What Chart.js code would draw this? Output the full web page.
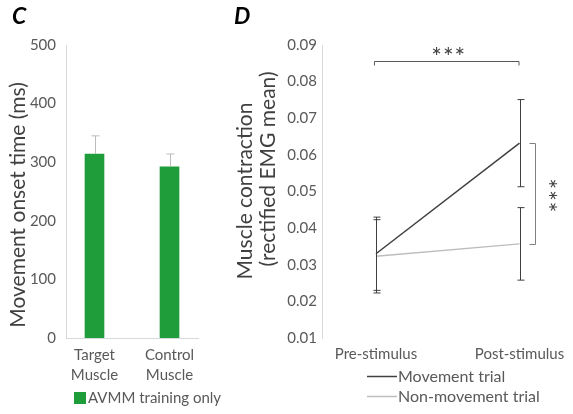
<!DOCTYPE html>
<html>
<head>
<meta charset="utf-8">
<script src="https://cdn.jsdelivr.net/npm/chart.js@4/dist/chart.umd.min.js"></script>
<style>
  body { margin: 0; background: #fff; }
  #wrap { position: relative; width: 573px; height: 414px; }
  canvas { position: absolute; top: 0; }
  #onsetChart { left: 0; }
  #emgChart { left: 220px; }
</style>
</head>
<body>
<div id="wrap">
  <canvas id="onsetChart" width="250" height="414"></canvas>
  <canvas id="emgChart" width="353" height="414"></canvas>
</div>
<script>
// Panel C data
const muscleLabels = [["Target", "Muscle"], ["Control", "Muscle"]];
const onsetMeans = [314, 292];
const onsetErrors = [31, 22];
const onsetSeriesName = "AVMM training only";
const onsetTitle = "Movement onset time (ms)";

// Panel D data
const phaseLabels = ["Pre-stimulus", "Post-stimulus"];
const movementMeans = [0.0330, 0.0632];
const movementErrors = [0.0100, 0.0119];
const nonMovementMeans = [0.0323, 0.0357];
const nonMovementErrors = [0.0100, 0.0099];
const seriesNames = ["Movement trial", "Non-movement trial"];
const emgTitle = ["Muscle contraction", "(rectified EMG mean)"];
const sigLabel = "***";

const tickColor = "#595959";
const titleColor = "#404040";
const axisColor = "#d9d9d9";
const green = "#1f9d3b";

function rotatedText(ctx, text, x, y, size) {
  ctx.save();
  ctx.translate(x, y);
  ctx.rotate(-Math.PI / 2);
  ctx.font = size + "px Lato";
  ctx.fillStyle = titleColor;
  ctx.textAlign = "center";
  ctx.textBaseline = "middle";
  ctx.fillText(text, 0, 0);
  ctx.restore();
}

function panelLetter(ctx, letter, x, y) {
  ctx.save();
  ctx.font = "italic bold 23px Lato";
  ctx.fillStyle = "#000";
  ctx.textBaseline = "alphabetic";
  ctx.fillText(letter, x, y);
  ctx.restore();
}

// error bars for the bar chart (upper half only)
const onsetExtras = {
  id: "onsetExtras",
  afterDatasetsDraw(chart) {
    const ctx = chart.ctx;
    const xs = chart.scales.x, ys = chart.scales.y;
    ctx.save();
    ctx.strokeStyle = "#bcbcbc";
    ctx.lineWidth = 1;
    onsetMeans.forEach((m, i) => {
      const x = Math.round(xs.getPixelForValue(i)) + 0.5;
      const top = ys.getPixelForValue(m + onsetErrors[i]);
      ctx.beginPath();
      ctx.moveTo(x, ys.getPixelForValue(m));
      ctx.lineTo(x, top);
      ctx.moveTo(x - 4, top);
      ctx.lineTo(x + 4, top);
      ctx.stroke();
    });
    ctx.restore();
  },
  afterDraw(chart) {
    const ctx = chart.ctx;
    panelLetter(ctx, "C", 12, 24);
    rotatedText(ctx, onsetTitle, 18, 205, 21);
    // legend
    ctx.save();
    ctx.fillStyle = green;
    ctx.fillRect(74, 392, 12, 12);
    ctx.font = "15px Lato";
    ctx.fillStyle = tickColor;
    ctx.textBaseline = "middle";
    ctx.fillText(onsetSeriesName, 88, 398);
    ctx.restore();
  }
};

new Chart(document.getElementById("onsetChart"), {
  type: "bar",
  data: {
    datasets: [{
      label: onsetSeriesName,
      data: onsetMeans.map((v, i) => ({ x: i, y: v })),
      backgroundColor: green,
      barThickness: 19
    }]
  },
  options: {
    responsive: false,
    animation: false,
    layout: { padding: { top: 45, right: 52, left: 0, bottom: 0 } },
    plugins: { legend: { display: false }, tooltip: { enabled: false } },
    scales: {
      x: {
        type: "linear",
        offset: false,
        min: -0.38,
        max: 1.38,
        grid: { display: false, drawTicks: false },
        border: { color: axisColor },
        afterBuildTicks: s => { s.ticks = muscleLabels.map((_, i) => ({ value: i })); },
        afterFit: s => { s.height = 76; },
        ticks: {
          callback: v => muscleLabels[v],
          padding: 7,
          color: tickColor,
          maxRotation: 0,
          autoSkip: false,
          font: { family: "Lato", size: 15, lineHeight: 1.33 }
        }
      },
      y: {
        min: 0,
        max: 500,
        grid: { display: false, drawTicks: false },
        border: { color: axisColor },
        afterFit: s => { s.width = 66; },
        ticks: {
          stepSize: 100,
          padding: 10,
          color: tickColor,
          font: { family: "Lato", size: 15 }
        }
      }
    }
  },
  plugins: [onsetExtras]
});

// error bars, brackets and legend for the line chart
const emgExtras = {
  id: "emgExtras",
  afterDatasetsDraw(chart) {
    const ctx = chart.ctx;
    const xs = chart.scales.x, ys = chart.scales.y;
    ctx.save();
    ctx.strokeStyle = "#3f3f3f";
    ctx.lineWidth = 1;
    [[movementMeans, movementErrors], [nonMovementMeans, nonMovementErrors]].forEach(([means, errs]) => {
      means.forEach((m, i) => {
        const x = Math.round(xs.getPixelForValue(i)) + 0.5;
        const hi = ys.getPixelForValue(m + errs[i]);
        const lo = ys.getPixelForValue(m - errs[i]);
        ctx.beginPath();
        ctx.moveTo(x, hi); ctx.lineTo(x, lo);
        ctx.moveTo(x - 3, hi); ctx.lineTo(x + 4, hi);
        ctx.moveTo(x - 3, lo); ctx.lineTo(x + 4, lo);
        ctx.stroke();
      });
    });
    ctx.restore();
  },
  afterDraw(chart) {
    const ctx = chart.ctx;
    const xs = chart.scales.x, ys = chart.scales.y;
    const x0 = xs.getPixelForValue(0), x1 = xs.getPixelForValue(1);
    panelLetter(ctx, "D", 14, 24);
    rotatedText(ctx, emgTitle[0], 25, 191, 21);
    rotatedText(ctx, emgTitle[1], 48, 169, 21);

    ctx.save();
    ctx.strokeStyle = "#595959";
    ctx.lineWidth = 1;
    // top bracket: pre vs post
    const by = Math.round(ys.getPixelForValue(0.0855)) + 0.5;
    ctx.beginPath();
    ctx.moveTo(x0 - 1.5, by + 4); ctx.lineTo(x0 - 1.5, by);
    ctx.lineTo(x1 - 0.5, by); ctx.lineTo(x1 - 0.5, by + 4);
    ctx.stroke();
    ctx.font = "25px Lato";
    ctx.letterSpacing = "1px";
    ctx.fillStyle = "#404040";
    ctx.textAlign = "center";
    ctx.textBaseline = "alphabetic";
    ctx.fillText(sigLabel, (x0 + x1) / 2 + 1, by + 4);

    // right bracket: movement vs non-movement at post
    const rx = Math.round(x1 + 15) + 0.5;
    const ty = Math.round(ys.getPixelForValue(movementMeans[1])) + 0.5;
    const tb = Math.round(ys.getPixelForValue(nonMovementMeans[1])) + 0.5;
    ctx.strokeStyle = "#808080";
    ctx.beginPath();
    ctx.moveTo(rx - 6, ty); ctx.lineTo(rx, ty);
    ctx.lineTo(rx, tb); ctx.lineTo(rx - 6, tb);
    ctx.stroke();
    ctx.translate(rx + 2, (ty + tb) / 2 + 2);
    ctx.rotate(Math.PI / 2);
    ctx.fillText(sigLabel, 0, 0);
    ctx.restore();

    // legend
    ctx.save();
    ctx.font = "16px Lato";
    ctx.fillStyle = tickColor;
    ctx.textBaseline = "middle";
    const colors = ["#404040", "#bdbdbd"];
    seriesNames.forEach((name, i) => {
      const y = 376.5 + i * 20;
      ctx.strokeStyle = colors[i];
      ctx.lineWidth = 1.5;
      ctx.beginPath();
      ctx.moveTo(147, y); ctx.lineTo(177, y);
      ctx.stroke();
      ctx.fillText(name, 178, y);
    });
    ctx.restore();
  }
};

new Chart(document.getElementById("emgChart"), {
  type: "line",
  data: {
    datasets: [{
      label: seriesNames[1],
      data: nonMovementMeans.map((v, i) => ({ x: i, y: v })),
      borderColor: "#bdbdbd",
      borderWidth: 1.5,
      pointRadius: 0
    }, {
      label: seriesNames[0],
      data: movementMeans.map((v, i) => ({ x: i, y: v })),
      borderColor: "#404040",
      borderWidth: 1.5,
      pointRadius: 0
    }]
  },
  options: {
    responsive: false,
    animation: false,
    layout: { padding: { top: 45, right: 13, left: 0, bottom: 0 } },
    plugins: { legend: { display: false }, tooltip: { enabled: false } },
    scales: {
      x: {
        type: "linear",
        min: -0.376,
        max: 1.221,
        grid: { display: false, drawTicks: false },
        border: { display: false },
        afterBuildTicks: s => { s.ticks = phaseLabels.map((_, i) => ({ value: i })); },
        afterFit: s => { s.height = 76; },
        ticks: {
          callback: v => phaseLabels[v],
          padding: 7,
          color: tickColor,
          maxRotation: 0,
          autoSkip: false,
          font: { family: "Lato", size: 15 }
        }
      },
      y: {
        min: 0.01,
        max: 0.09,
        grid: { display: false, drawTicks: false },
        border: { color: axisColor },
        afterFit: s => { s.width = 102; },
        ticks: {
          stepSize: 0.01,
          padding: 5,
          color: tickColor,
          callback: v => v.toFixed(2),
          font: { family: "Lato", size: 15 }
        }
      }
    }
  },
  plugins: [emgExtras]
});
</script>
</body>
</html>
